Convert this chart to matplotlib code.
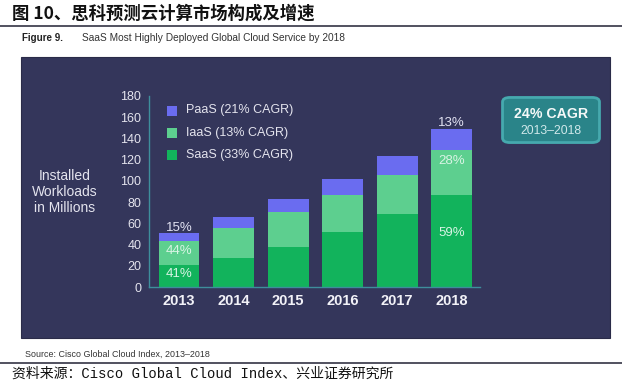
import matplotlib
matplotlib.use("Agg")
import matplotlib.pyplot as plt
from matplotlib.patches import Rectangle, FancyBboxPatch
import numpy as np

years = ['2013', '2014', '2015', '2016', '2017', '2018']
saas = [21, 27, 38, 52, 68.5, 87]
iaas = [22, 29, 32.5, 35, 37.5, 42]
paas = [8, 10, 12.5, 15, 17, 20]
legend_labels = ['PaaS (21% CAGR)', 'IaaS (13% CAGR)', 'SaaS (33% CAGR)']
yticks = [0, 20, 40, 60, 80, 100, 120, 140, 160, 180]
share_2013 = ['41%', '44%', '15%']
share_2018 = ['59%', '28%', '13%']

W, H = 622, 384
fig = plt.figure(figsize=(W / 100, H / 100), dpi=100)
fig.patch.set_facecolor('white')

def fx(px):
    return px / W

def fy(py):
    return 1 - py / H

# dark panel
fig.patches.append(Rectangle((fx(21), fy(338)), fx(610) - fx(21), fy(57) - fy(338),
                             transform=fig.transFigure, facecolor='#34365b',
                             edgecolor='#2a2b48', lw=0.8, zorder=-5))

# title and rules
fig.text(fx(12), fy(14), '图 10、思科预测云计算市场构成及增速', fontsize=12.5, fontweight='bold',
         family=['Noto Sans CJK SC', 'DejaVu Sans'], va='center', ha='left', color='#111111')
fig.add_artist(plt.Line2D([0, 1], [fy(26), fy(26)], transform=fig.transFigure, color='#333344', lw=1.2))
fig.text(fx(22), fy(38), 'Figure 9.', fontsize=7, fontweight='bold', family='Liberation Sans',
         va='center', ha='left', color='#222222')
fig.text(fx(82), fy(38), 'SaaS Most Highly Deployed Global Cloud Service by 2018', fontsize=7.3,
         family='Liberation Sans', va='center', ha='left', color='#333333')
fig.text(fx(25), fy(354), 'Source: Cisco Global Cloud Index, 2013–2018', fontsize=6.4,
         family='Liberation Sans', va='center', ha='left', color='#333333')
fig.add_artist(plt.Line2D([0, 1], [fy(363), fy(363)], transform=fig.transFigure, color='#333344', lw=1.2))
fig.text(fx(12), fy(374), '资料来源：Cisco Global Cloud Index、兴业证券研究所', fontsize=10,
         family=['Liberation Mono', 'Noto Sans CJK SC'], va='center', ha='left', color='#111111')

# axes
ax = fig.add_axes([fx(149), fy(287), fx(480) - fx(149), fy(96) - fy(287)])
ax.set_facecolor('none')
ax.set_zorder(1)
x = np.arange(len(years))
c_saas, c_iaas, c_paas = '#12b35c', '#5dcf8f', '#6a6cf0'
bw = 0.75
s = np.array(saas)
i = np.array(iaas)
p = np.array(paas)
ax.bar(x, s, bw, color=c_saas, zorder=2)
ax.bar(x, i, bw, bottom=s, color=c_iaas, zorder=2)
ax.bar(x, p, bw, bottom=s + i, color=c_paas, zorder=2)
ax.set_xlim(-0.55, 5.52)
ax.set_ylim(0, 180)
ax.set_yticks(yticks)
ax.set_yticklabels([str(t) for t in yticks], fontsize=9, family='Liberation Sans', color='#e4e4ee')
ax.set_xticks(x)
ax.set_xticklabels(years, fontsize=10.5, fontweight='bold', family='Liberation Sans', color='#f2f2f8')
ax.tick_params(axis='both', length=0)
ax.tick_params(axis='y', pad=5.5)
ax.tick_params(axis='x', pad=5)
for sp in ['top', 'right']:
    ax.spines[sp].set_visible(False)
for sp in ['left', 'bottom']:
    ax.spines[sp].set_color('#3e8e9c')
    ax.spines[sp].set_linewidth(1.0)

lab_in = '#d8f4e4'
lab_top = '#e2e2f2'
tot = s + i + p
# 2013 labels
ax.text(0, s[0] * 0.57, share_2013[0], ha='center', va='center', fontsize=9.5,
        family='Liberation Sans', color=lab_in, zorder=3)
ax.text(0, s[0] + i[0] * 0.58, share_2013[1], ha='center', va='center', fontsize=9.5,
        family='Liberation Sans', color=lab_in, zorder=3)
ax.text(0, tot[0] + 4.5, share_2013[2], ha='center', va='center', fontsize=9.5,
        family='Liberation Sans', color=lab_top, zorder=3)
# 2018 labels
ax.text(5, s[5] * 0.58, share_2018[0], ha='center', va='center', fontsize=9.5,
        family='Liberation Sans', color=lab_in, zorder=3)
ax.text(5, s[5] + i[5] * 0.76, share_2018[1], ha='center', va='center', fontsize=9.5,
        family='Liberation Sans', color=lab_in, zorder=3)
ax.text(5, tot[5] + 6, share_2018[2], ha='center', va='center', fontsize=9.5,
        family='Liberation Sans', color=lab_top, zorder=3)

# legend
leg_cols = [c_paas, c_iaas, c_saas]
leg_y = [110.5, 133, 155]
for lbl, col, yy in zip(legend_labels, leg_cols, leg_y):
    fig.patches.append(Rectangle((fx(167), fy(yy + 5)), fx(10), 10 / H,
                                 transform=fig.transFigure, facecolor=col, edgecolor='none', zorder=3))
    fig.text(fx(186), fy(yy), lbl, fontsize=9, family='Liberation Sans', color='#e4e4ee',
             va='center', ha='left', zorder=3)

# y-label
fig.text(fx(65), fy(192), 'Installed\nWorkloads\nin Millions', fontsize=10, family='Liberation Sans',
         color='#e4e4ee', ha='center', va='center', linespacing=1.15, multialignment='center')

# CAGR box
box = FancyBboxPatch((fx(505), fy(141)), fx(597) - fx(505), fy(99) - fy(141),
                     boxstyle='round,pad=0.004,rounding_size=0.012', transform=fig.transFigure,
                     facecolor='#2a8489', edgecolor='#46a9ae', lw=2.0, zorder=3)
fig.patches.append(box)
fig.text(fx(551), fy(114), '24% CAGR', fontsize=10.2, fontweight='bold', family='Liberation Sans',
         color='#f4f8f8', ha='center', va='center', zorder=4)
fig.text(fx(551), fy(131), '2013–2018', fontsize=8.8, family='Liberation Sans',
         color='#d0e8ea', ha='center', va='center', zorder=4)

fig.savefig('out.png', dpi=100)
